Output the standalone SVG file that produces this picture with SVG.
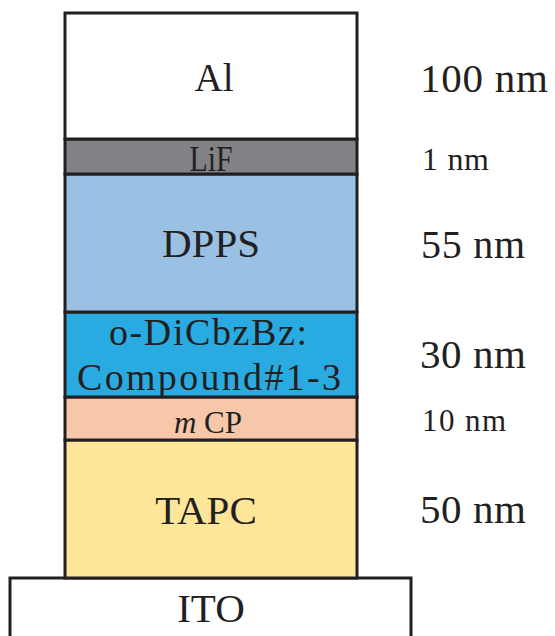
<svg xmlns="http://www.w3.org/2000/svg" width="555" height="636" viewBox="0 0 555 636">
<style>
.layer{stroke:#231f20;stroke-width:3}
.lbl{font-family:"Liberation Serif","Times New Roman",serif;fill:#231f20;text-anchor:middle}
.th{font-family:"Liberation Serif","Times New Roman",serif;fill:#231f20}
</style>
<rect width="555" height="636" fill="#ffffff"/>
<g id="ITO">
<rect class="layer" x="10" y="578" width="401" height="70" fill="#ffffff"/>
<text class="lbl" x="211" y="622" font-size="41">ITO</text>
</g>
<g id="TAPC">
<rect class="layer" x="65" y="440" width="292" height="138" fill="#fde59a"/>
<text class="lbl" x="206" y="524" font-size="41">TAPC</text>
<text class="th" x="420" y="523" font-size="41" textLength="106" lengthAdjust="spacing">50 nm</text>
</g>
<g id="mCP">
<rect class="layer" x="65" y="397" width="292" height="43" fill="#f6c8a9"/>
<text class="lbl" x="208" y="433" font-size="31"><tspan font-style="italic">m</tspan> CP</text>
<text class="th" x="422" y="431" font-size="31" textLength="84" lengthAdjust="spacing">10 nm</text>
</g>
<g id="EML">
<rect class="layer" x="65" y="312" width="292" height="85" fill="#29abe2"/>
<text class="lbl" x="208" y="345" font-size="38" textLength="198" lengthAdjust="spacing">o-DiCbzBz:</text>
<text class="lbl" x="209" y="390" font-size="38" textLength="264" lengthAdjust="spacing">Compound#1-3</text>
<text class="th" x="420" y="368" font-size="41" textLength="106" lengthAdjust="spacing">30 nm</text>
</g>
<g id="DPPS">
<rect class="layer" x="65" y="174" width="292" height="138" fill="#9ac0e4"/>
<text class="lbl" x="211" y="257" font-size="41">DPPS</text>
<text class="th" x="421" y="258" font-size="40" textLength="104" lengthAdjust="spacing">55 nm</text>
</g>
<g id="LiF">
<rect class="layer" x="65" y="139" width="292" height="35" fill="#808285"/>
<text class="lbl" x="211" y="171" font-size="35" textLength="43" lengthAdjust="spacingAndGlyphs">LiF</text>
<text class="th" x="422" y="170" font-size="32" textLength="67" lengthAdjust="spacing">1 nm</text>
</g>
<g id="Al">
<rect class="layer" x="65" y="13" width="292" height="126" fill="#ffffff"/>
<text class="lbl" x="214" y="91" font-size="39">Al</text>
<text class="th" x="420" y="92" font-size="41" textLength="128" lengthAdjust="spacing">100 nm</text>
</g>
</svg>
